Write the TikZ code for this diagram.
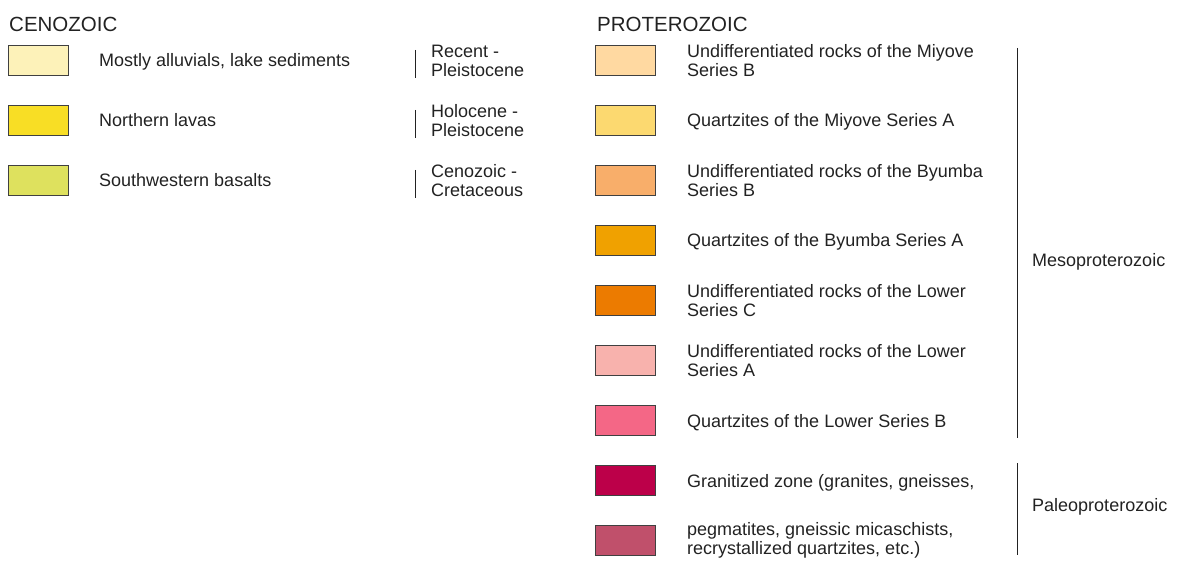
\documentclass[tikz,border=0pt]{standalone}
\usepackage{fontspec}
\setmainfont{Liberation Sans}
\usepackage{tikz}

\definecolor{alluvcol}{HTML}{FDF2B9}
\definecolor{lavacol}{HTML}{F8DE25}
\definecolor{basaltcol}{HTML}{DEE15E}
\definecolor{miyBcol}{HTML}{FFD9A1}
\definecolor{miyAcol}{HTML}{FCD970}
\definecolor{byuBcol}{HTML}{F8AE6A}
\definecolor{byuAcol}{HTML}{F0A100}
\definecolor{lowCcol}{HTML}{EC7B00}
\definecolor{lowAcol}{HTML}{F8B2AD}
\definecolor{lowBcol}{HTML}{F46786}
\definecolor{grancol}{HTML}{BC0049}
\definecolor{pegcol}{HTML}{C0506B}
\definecolor{inkcol}{HTML}{222222}

\begin{document}
\begin{tikzpicture}[x=1pt,y=-1pt,
	unitbox/.style={draw=black!75, line width=0.8pt, minimum width=60pt, minimum height=30pt, inner sep=0pt},
	lbl/.style={anchor=base west, inner sep=0pt, text=inkcol, font=\fontsize{18}{19}\selectfont},
	lbltwo/.style={anchor=west, inner sep=0pt, align=left, text=inkcol, font=\fontsize{18}{19}\selectfont},
	eralbl/.style={anchor=west, inner sep=0pt, text=inkcol, font=\fontsize{20.5}{22}\selectfont},
	agebar/.style={draw=inkcol, line width=1pt}]
	\useasboundingbox (0,0) rectangle (1183,572);

	% Cenozoic column
	\node[eralbl] (ceno) at (9,24) {CENOZOIC};
	\node[unitbox, fill=alluvcol] (alluv) at (38,60.5) {};
	\node[unitbox, fill=lavacol] (lava) at (38,120.5) {};
	\node[unitbox, fill=basaltcol] (basalt) at (38,180.5) {};
	\node[lbl] (alluvtxt) at (99,67) {Mostly alluvials, lake sediments};
	\node[lbl] (lavatxt) at (99,127) {Northern lavas};
	\node[lbl] (basalttxt) at (99,187) {Southwestern basalts};
	\draw[agebar] (415,50) -- (415,78);
	\draw[agebar] (415,110) -- (415,138);
	\draw[agebar] (415,170) -- (415,198);
	\node[lbltwo] (agea) at (431,61) {Recent -\\Pleistocene};
	\node[lbltwo] (ageb) at (431,121) {Holocene -\\Pleistocene};
	\node[lbltwo] (agec) at (431,181) {Cenozoic -\\Cretaceous};

	% Proterozoic column
	\node[eralbl] (prot) at (597,24) {PROTEROZOIC};
	\node[unitbox, fill=miyBcol] (miyB) at (625,60.5) {};
	\node[unitbox, fill=miyAcol] (miyA) at (625,120.5) {};
	\node[unitbox, fill=byuBcol] (byuB) at (625,180.5) {};
	\node[unitbox, fill=byuAcol] (byuA) at (625,240.5) {};
	\node[unitbox, fill=lowCcol] (lowC) at (625,300.5) {};
	\node[unitbox, fill=lowAcol] (lowA) at (625,360.5) {};
	\node[unitbox, fill=lowBcol] (lowB) at (625,420.5) {};
	\node[unitbox, fill=grancol] (gran) at (625,480.5) {};
	\node[unitbox, fill=pegcol] (peg) at (625,540.5) {};
	\node[lbltwo] (miyBtxt) at (687,61) {Undifferentiated rocks of the Miyove\\Series B};
	\node[lbl] (miyAtxt) at (687,127) {Quartzites of the Miyove Series A};
	\node[lbltwo] (byuBtxt) at (687,181) {Undifferentiated rocks of the Byumba\\Series B};
	\node[lbl] (byuAtxt) at (687,247) {Quartzites of the Byumba Series A};
	\node[lbltwo] (lowCtxt) at (687,301) {Undifferentiated rocks of the Lower\\Series C};
	\node[lbltwo] (lowAtxt) at (687,361) {Undifferentiated rocks of the Lower\\Series A};
	\node[lbl] (lowBtxt) at (687,427) {Quartzites of the Lower Series B};
	\node[lbl] (grantxt) at (687,487) {Granitized zone (granites, gneisses,};
	\node[lbltwo] (pegtxt) at (687,540) {pegmatites, gneissic micaschists,\\recrystallized quartzites, etc.)};
	\draw[agebar] (1017,48) -- (1017,438);
	\draw[agebar] (1017,463) -- (1017,555);
	\node[lbl] (meso) at (1032,266) {Mesoproterozoic};
	\node[lbl] (paleo) at (1032,511) {Paleoproterozoic};
\end{tikzpicture}
\end{document}
